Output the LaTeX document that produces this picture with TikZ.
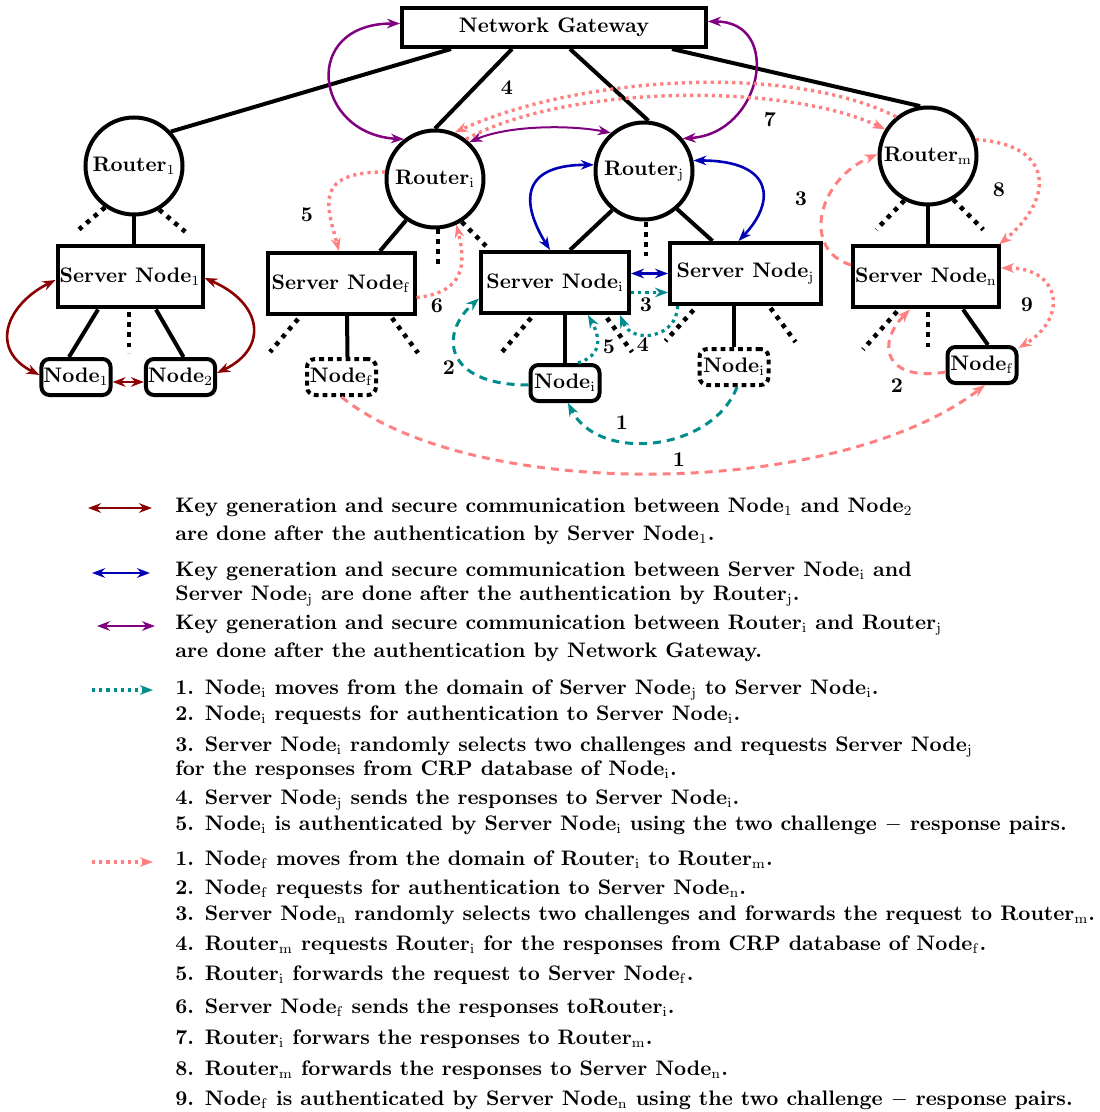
\documentclass[tikz,border=0pt]{standalone}
\usetikzlibrary{arrows.meta,calc}
\definecolor{keyred}{RGB}{139,0,0}
\definecolor{keyblue}{RGB}{0,0,180}
\definecolor{keypurple}{RGB}{128,0,128}
\definecolor{moveteal}{RGB}{0,140,140}
\definecolor{movepink}{RGB}{255,128,128}
\newcommand\sbs[1]{\ensuremath{_{\mathrm{#1}}}}

\begin{document}
\begin{tikzpicture}[x=0.5pt,y=-0.5pt,
  every node/.style={font=\fontsize{10.5}{12.5}\selectfont\bfseries},
  link/.style={line width=2pt},
  stub/.style={line width=2.3pt, dash pattern=on 2.2pt off 2.8pt},
  rtr/.style={draw, circle, line width=2pt, minimum size=48.5pt, inner sep=0pt},
  srv/.style={draw, rectangle, line width=2pt, minimum height=30.5pt, inner sep=1pt},
  leaf/.style={draw, rectangle, rounded corners=4pt, line width=2pt,
               minimum width=34.5pt, minimum height=18pt, inner sep=1pt},
  ghost/.style={leaf, dash pattern=on 2.4pt off 2pt},
  onehead/.style={-{Stealth[length=6.5pt,width=4.8pt]}},
  twohead/.style={{Stealth[length=6.5pt,width=4.8pt]}-{Stealth[length=6.5pt,width=4.8pt]}},
  redkey/.style={keyred, line width=1.3pt, twohead},
  bluekey/.style={keyblue, line width=1.3pt, twohead},
  purplekey/.style={keypurple, line width=1.25pt, twohead},
  tealdash/.style={moveteal, line width=1.5pt, dash pattern=on 4pt off 3pt, onehead},
  tealdot/.style={moveteal, line width=1.6pt, dash pattern=on 1.6pt off 2pt, onehead},
  pinkdash/.style={movepink, line width=1.5pt, dash pattern=on 4pt off 3pt, onehead},
  pinkdot/.style={movepink, line width=1.7pt, dash pattern=on 1.6pt off 2pt, onehead},
  stepnum/.style={inner sep=1pt}
]
\useasboundingbox (0,0) rectangle (1099,1112);

% ---------- network elements ----------
\node[draw, rectangle, line width=2pt, minimum width=152pt, minimum height=19.5pt, inner sep=1pt]
  (gw) at (554,27.5) {Network Gateway};

\node[rtr] (r1) at (134,166) {Router\sbs{1}};
\node[rtr] (ri) at (435,179) {Router\sbs{i}};
\node[rtr] (rj) at (644,171) {Router\sbs{j}};
\node[rtr] (rm) at (928,156) {Router\sbs{m}};

\node[srv, minimum width=72.5pt] (sn1) at (130,277)   {Server Node\sbs{1}};
\node[srv, minimum width=73.5pt] (snf) at (341,283.5) {Server Node\sbs{f}};
\node[srv, minimum width=74pt]   (sni) at (555,282.5) {Server Node\sbs{i}};
\node[srv, minimum width=75.5pt] (snj) at (745.5,273.5) {Server Node\sbs{j}};
\node[srv, minimum width=73pt]   (snn) at (926,277)   {Server Node\sbs{n}};

\node[leaf]  (n1)  at (76,377)    {Node\sbs{1}};
\node[leaf]  (n2)  at (180.5,377) {Node\sbs{2}};
\node[ghost] (nf)  at (341.5,377) {Node\sbs{f}};
\node[leaf]  (ni)  at (565,383)   {Node\sbs{i}};
\node[ghost] (nid) at (734,367)   {Node\sbs{i}};
\node[leaf]  (nfr) at (982,365)   {Node\sbs{f}};

% ---------- solid links ----------
\draw[link] ($(gw.south)+(-103,0)$) -- (r1.43);
\draw[link] ($(gw.south)+(-42,0)$) -- (ri.north);
\draw[link] ($(gw.south)+(16,0)$) -- (rj.85);
\draw[link] ($(gw.south)+(118,0)$) -- (rm.99);
\draw[link] (r1.south) -- (sn1.north -| r1.south);
\draw[link] (ri.235) -- ($(snf.north)+(39,0)$);
\draw[link] (rj.231) -- ($(sni.north)+(15,0)$);
\draw[link] (rj.311) -- ($(snj.north)+(-33,0)$);
\draw[link] (rm.south) -- (snn.north -| rm.south);
\draw[link] ($(sn1.south)+(-32,0)$) -- ($(n1.north)+(-7,0)$);
\draw[link] ($(sn1.south)+(26,0)$) -- ($(n2.north)+(3,0)$);
\draw[link] ($(snf.south)+(6,0)$) -- ($(nf.north)+(6,0)$);
\draw[link] (sni.south -| ni.north) -- (ni.north);
\draw[link] (snj.south -| nid.north) -- (nid.north);
\draw[link] ($(snn.south)+(37,0)$) -- ($(nfr.north)+(6,0)$);

% ---------- dotted stubs for further members ----------
\draw[stub] (r1.235) -- ++(-26,22);
\draw[stub] (r1.300) -- ++(26,22);
\draw[stub] ($(sn1.south)+(-1,3)$) -- ++(0,40);
\draw[stub] ($(ri.south)+(3,0)$) -- ++(0,35);
\draw[stub] (ri.302) -- ++(25,25);
\draw[stub] ($(snf.south)+(-43,3)$) -- ++(-28,33);
\draw[stub] ($(snf.south)+(51,2)$) -- ++(26,35);
\draw[stub] ($(rj.south)+(2,1)$) -- ++(0,34);
\draw[stub] ($(sni.south)+(-24,3)$) -- ++(-29,34);
\draw[stub] ($(sni.south)+(52,3)$) -- ++(25,34);
\draw[stub] ($(snj.south)+(-52,4)$) -- ++(-28,31);
\draw[stub] ($(snj.south)+(25,2)$) -- ++(25,34);
\draw[stub] (rm.242) -- ++(-28,29);
\draw[stub] (rm.300) -- ++(30,30);
\draw[stub] ($(snn.south)+(-29,2)$) -- ++(-34,38);
\draw[stub] ($(snn.south)+(2,3)$) -- ++(0,35);

% ---------- key generation links ----------
\draw[redkey] ($(sn1.west)+(0,3)$) .. controls +(-50,25) and +(-50,-25) .. ($(n1.west)+(0,-2)$);
\draw[redkey] ($(sn1.east)+(0,1)$) .. controls +(58,25) and +(52,-25) .. ($(n2.east)+(0,-4)$);
\draw[redkey] ($(n1.east)+(0,5)$) -- ($(n2.west)+(0,5)$);

\draw[bluekey] (rj.173) .. controls +(-80,0) and +(-25,-40) .. ($(sni.north)+(-5,0)$);
\draw[bluekey] (rj.12) .. controls +(80,0) and +(38,-40) .. ($(snj.north)+(-7,0)$);
\draw[bluekey] (sni.east |- snj.west) -- (snj.west);

\draw[purplekey] ($(gw.west)+(0,-4)$) .. controls +(-100,0) and +(-90,-5) .. (ri.128);
\draw[purplekey] ($(gw.east)+(0,-6)$) .. controls +(75,0) and +(80,-5) .. (rj.40);
\draw[purplekey, line width=1pt] (ri.47) .. controls +(40,-17) and +(-40,-8) .. (rj.131);

% ---------- Node_i moving between server nodes ----------
\draw[tealdash] ($(nid.south)+(3,0)$) .. controls +(-25,65) and +(30,60) .. ($(ni.south)+(3,0)$);
\draw[tealdash] ($(ni.west)+(0,2)$) .. controls +(-85,0) and +(-40,35) .. ($(sni.west)+(0,16)$);
\draw[tealdot] ($(sni.east)+(0,10)$) -- ($(snj.west)+(0,19)$);
\draw[tealdot] ($(snj.south)+(-68,0)$) .. controls +(0,32) and +(12,30) .. ($(sni.south)+(65,0)$);
\draw[tealdot] ($(ni.north)+(13,0)$) .. controls +(25,-8) and +(12,22) .. ($(sni.south)+(33,0)$);

\node[stepnum] at (622,423) {1};
\node[stepnum] at (449,368) {2};
\node[stepnum] at (646,305) {3};
\node[stepnum] at (643,345) {4};
\node[stepnum] at (609,347) {5};

% ---------- Node_f moving between routers ----------
\draw[pinkdash] (nf.south) .. controls +(130,105) and +(-150,115) .. ($(nfr.south)+(3,0)$);
\draw[pinkdash] ($(nfr.west)+(0,7)$) .. controls +(-60,10) and +(-35,35) .. ($(snn.south)+(-16,0)$);
\draw[pinkdash] ($(snn.west)+(0,-12)$) .. controls +(-50,-15) and +(-60,25) .. (rm.178);
\draw[pinkdot] (rm.129) .. controls +(-110,-55) and +(120,-55) .. (ri.67);
\draw[pinkdot] (ri.172) .. controls +(-72,0) and +(-12,-45) .. ($(snf.north)+(-2,0)$);
\draw[pinkdot] ($(snf.east)+(0,14)$) .. controls +(48,-5) and +(10,40) .. (ri.295);
\draw[pinkdot] (ri.52) .. controls +(100,-55) and +(-100,-47) .. (rm.148);
\draw[pinkdot] (rm.19) .. controls +(80,5) and +(55,-45) .. ($(snn.north east)+(-2,0)$);
\draw[pinkdot, twohead] ($(snn.east)+(0,-9)$) .. controls +(60,0) and +(50,-30) .. ($(nfr.east)+(0,-17)$);

\node[stepnum] at (679,460) {1};
\node[stepnum] at (897,386) {2};
\node[stepnum] at (801,199) {3};
\node[stepnum] at (507,88)  {4};
\node[stepnum] at (307,215) {5};
\node[stepnum] at (437,306) {6};
\node[stepnum] at (770,120) {7};
\node[stepnum] at (999,190) {8};
\node[stepnum] at (1027,305) {9};

% ---------- legend ----------
\coordinate (kr1) at (88,508);  \coordinate (kr2) at (152,508);
\coordinate (kb1) at (92,573);  \coordinate (kb2) at (150,573);
\coordinate (kp1) at (97,626);  \coordinate (kp2) at (155,626);
\coordinate (kt1) at (92,690);  \coordinate (kt2) at (153,690);
\coordinate (kk1) at (92,862);  \coordinate (kk2) at (153,862);
\draw[redkey] (kr1) -- (kr2);
\draw[bluekey] (kb1) -- (kb2);
\draw[purplekey] (kp1) -- (kp2);
\draw[tealdot] (kt1) -- (kt2);
\draw[pinkdot] (kk1) -- (kk2);

\begin{scope}[every node/.append style={anchor=base west, inner sep=0pt}]
\node at (175,512) {Key generation and secure communication between Node\sbs{1} and Node\sbs{2}};
\node at (175,540) {are done after the authentication by Server Node\sbs{1}.};
\node at (175,576) {Key generation and secure communication between Server Node\sbs{i} and};
\node at (175,600) {Server Node\sbs{j} are done after the authentication by Router\sbs{j}.};
\node at (175,629) {Key generation and secure communication between Router\sbs{i} and Router\sbs{j}};
\node at (175,657) {are done after the authentication by Network Gateway.};

\node at (175,694) {1. Node\sbs{i} moves from the domain of Server Node\sbs{j} to Server Node\sbs{i}.};
\node at (175,720) {2. Node\sbs{i} requests for authentication to Server Node\sbs{i}.};
\node at (175,751) {3. Server Node\sbs{i} randomly selects two challenges and requests Server Node\sbs{j}};
\node at (175,775) {for the responses from CRP database of Node\sbs{i}.};
\node at (175,804) {4. Server Node\sbs{j} sends the responses to Server Node\sbs{i}.};
\node at (175,830) {5. Node\sbs{i} is authenticated by Server Node\sbs{i} using the two challenge $-$ response pairs.};

\node at (175,865) {1. Node\sbs{f} moves from the domain of Router\sbs{i} to Router\sbs{m}.};
\node at (175,894) {2. Node\sbs{f} requests for authentication to Server Node\sbs{n}.};
\node at (175,920) {3. Server Node\sbs{n} randomly selects two challenges and forwards the request to Router\sbs{m}.};
\node at (175,950) {4. Router\sbs{m} requests Router\sbs{i} for the responses from CRP database of Node\sbs{f}.};
\node at (175,980) {5. Router\sbs{i} forwards the request to Server Node\sbs{f}.};
\node at (175,1013) {6. Server Node\sbs{f} sends the responses toRouter\sbs{i}.};
\node at (175,1044) {7. Router\sbs{i} forwars the responses to Router\sbs{m}.};
\node at (175,1075) {8. Router\sbs{m} forwards the responses to Server Node\sbs{n}.};
\node at (175,1105) {9. Node\sbs{f} is authenticated by Server Node\sbs{n} using the two challenge $-$ response pairs.};
\end{scope}
\end{tikzpicture}
\end{document}
